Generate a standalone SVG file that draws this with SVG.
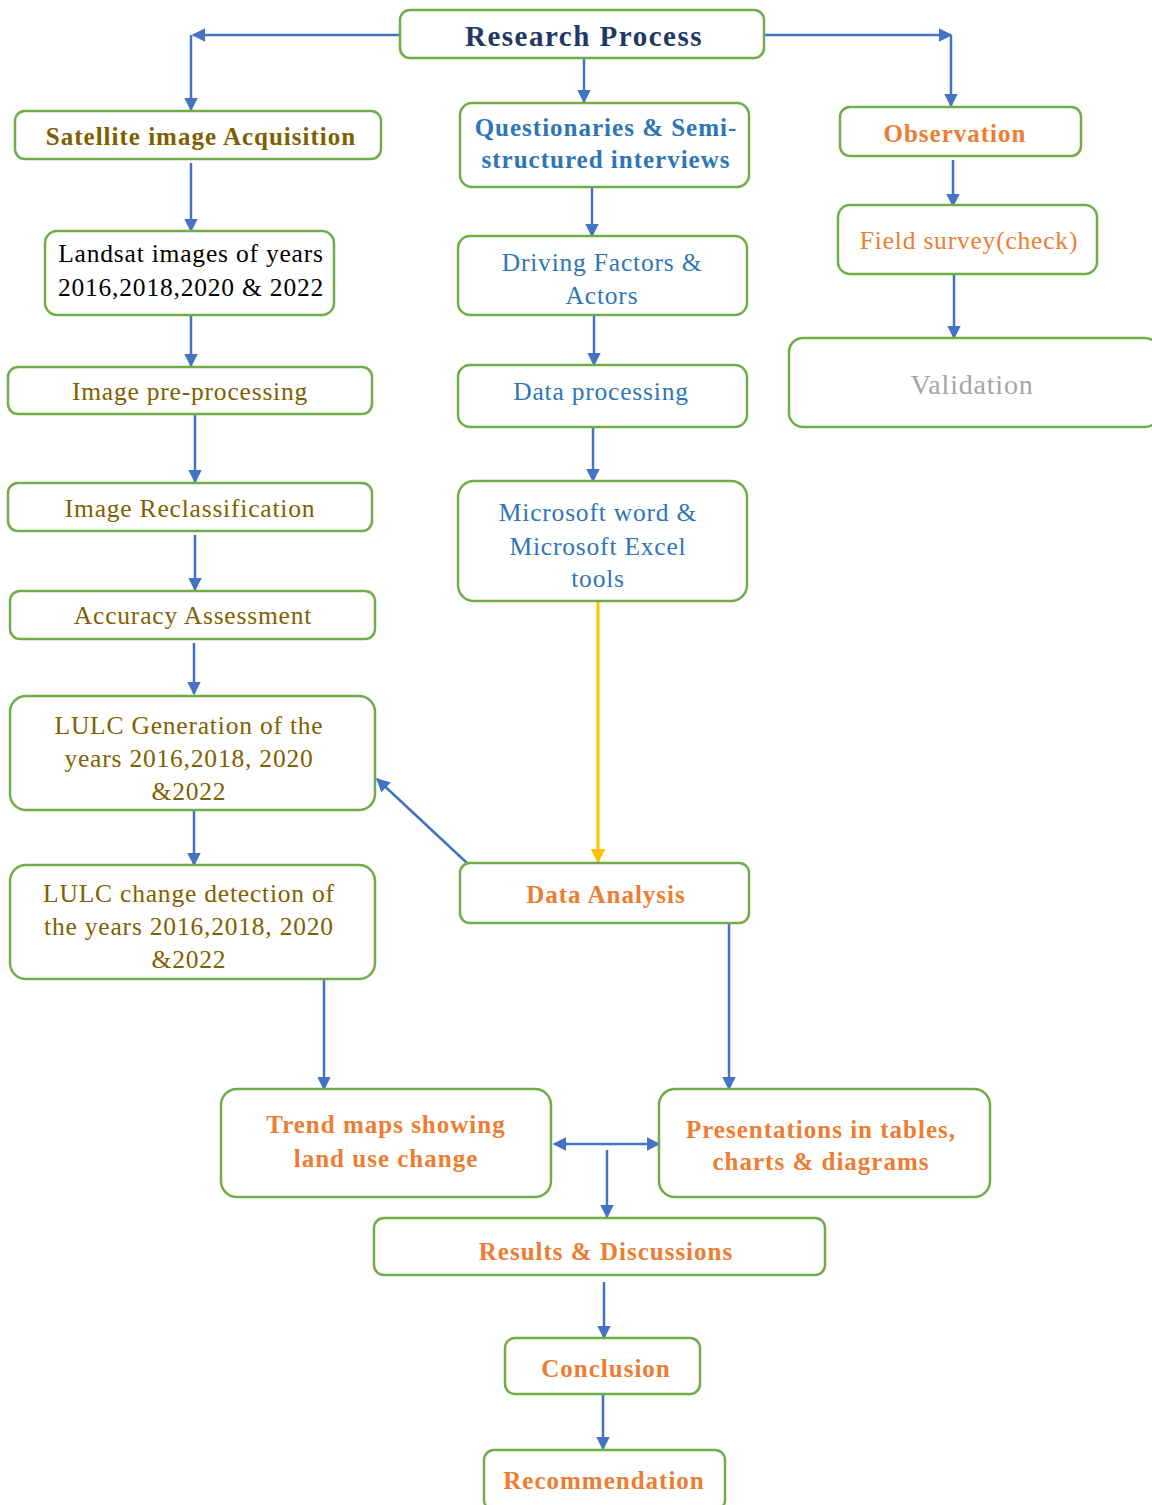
<svg xmlns="http://www.w3.org/2000/svg" width="1152" height="1505" viewBox="0 0 1152 1505">
<style>
.box{fill:#fff;stroke:#70AD47;stroke-width:2.5}
.t{font-family:"Liberation Serif","Tinos","Times New Roman",serif;text-anchor:middle;dominant-baseline:central;font-size:25.5px;letter-spacing:0.8px}
.b{font-weight:bold;font-size:25px;letter-spacing:1px}
.navy{fill:#1F3864}
.gold{fill:#7F6000}
.blk{fill:#000}
.blue{fill:#2E75B6}
.org{fill:#ED7D31}
.gry{fill:#A5A5A5}
.c{fill:none;stroke:#4472C4;stroke-width:2.5}
.y{fill:none;stroke:#FFC000;stroke-width:3}
</style>
<defs>
<marker id="ah" viewBox="0 0 10 10" refX="9" refY="5" markerWidth="5.5" markerHeight="5.5" orient="auto" markerUnits="strokeWidth">
<path d="M0,0 L10,5 L0,10 z" fill="#4472C4"/>
</marker>
<marker id="ahy" viewBox="0 0 10 10" refX="9" refY="5" markerWidth="5" markerHeight="5" orient="auto" markerUnits="strokeWidth">
<path d="M0,0 L10,5 L0,10 z" fill="#FFC000"/>
</marker>
</defs>
<rect width="1152" height="1505" fill="#fff"/>

<g id="connectors">
<path class="c" d="M400,35 H193" marker-end="url(#ah)"/>
<path class="c" d="M191,35 V110" marker-end="url(#ah)"/>
<path class="c" d="M764,35 H951" marker-end="url(#ah)"/>
<path class="c" d="M951,35 V106" marker-end="url(#ah)"/>
<path class="c" d="M584,58 V102" marker-end="url(#ah)"/>
<path class="c" d="M191,163 V231" marker-end="url(#ah)"/>
<path class="c" d="M191,316 V366" marker-end="url(#ah)"/>
<path class="c" d="M195,415 V482" marker-end="url(#ah)"/>
<path class="c" d="M195,535 V590" marker-end="url(#ah)"/>
<path class="c" d="M194,643 V694" marker-end="url(#ah)"/>
<path class="c" d="M194,811 V865" marker-end="url(#ah)"/>
<path class="c" d="M324,980 V1089" marker-end="url(#ah)"/>
<path class="c" d="M592,188 V236" marker-end="url(#ah)"/>
<path class="c" d="M594,316 V365" marker-end="url(#ah)"/>
<path class="c" d="M593,428 V481" marker-end="url(#ah)"/>
<path class="y" d="M598,602 V862" marker-end="url(#ahy)"/>
<path class="c" d="M467,863 L377,779" marker-end="url(#ah)"/>
<path class="c" d="M729,924 V1089" marker-end="url(#ah)"/>
<path class="c" d="M606,1144 H554" marker-end="url(#ah)"/>
<path class="c" d="M606,1144 H659" marker-end="url(#ah)"/>
<path class="c" d="M607,1150 V1217" marker-end="url(#ah)"/>
<path class="c" d="M604,1282 V1338" marker-end="url(#ah)"/>
<path class="c" d="M603,1390 V1449" marker-end="url(#ah)"/>
<path class="c" d="M953,160 V206" marker-end="url(#ah)"/>
<path class="c" d="M954,275 V338" marker-end="url(#ah)"/>
</g>

<g id="research-process">
<rect class="box" x="400" y="10" width="364" height="48" rx="10"/>
<text class="t b navy" x="584" y="36" style="font-size:29px;letter-spacing:1.5px">Research Process</text>
</g>

<g id="satellite">
<rect class="box" x="15" y="111" width="366" height="48" rx="10"/>
<text class="t b gold" x="201" y="136">Satellite image Acquisition</text>
</g>
<g id="landsat">
<rect class="box" x="45" y="231" width="289" height="84" rx="12"/>
<text class="t blk" x="191" y="253">Landsat images of years</text>
<text class="t blk" x="191" y="287">2016,2018,2020 &amp; 2022</text>
</g>
<g id="preprocessing">
<rect class="box" x="8" y="367" width="364" height="47" rx="10"/>
<text class="t gold" x="190" y="391">Image pre-processing</text>
</g>
<g id="reclassification">
<rect class="box" x="8" y="483" width="364" height="48" rx="10"/>
<text class="t gold" x="190" y="508">Image Reclassification</text>
</g>
<g id="accuracy">
<rect class="box" x="10" y="591" width="365" height="48" rx="10"/>
<text class="t gold" x="193" y="615">Accuracy Assessment</text>
</g>
<g id="lulc-generation">
<rect class="box" x="10" y="696" width="365" height="114" rx="16"/>
<text class="t gold" x="189" y="725">LULC Generation of the</text>
<text class="t gold" x="189" y="758">years 2016,2018, 2020</text>
<text class="t gold" x="189" y="791">&amp;2022</text>
</g>
<g id="lulc-change">
<rect class="box" x="10" y="865" width="365" height="114" rx="16"/>
<text class="t gold" x="189" y="893">LULC change detection of</text>
<text class="t gold" x="189" y="926">the years 2016,2018, 2020</text>
<text class="t gold" x="189" y="959">&amp;2022</text>
</g>

<g id="questionaries">
<rect class="box" x="460" y="103" width="289" height="84" rx="12"/>
<text class="t b blue" x="606" y="127">Questionaries &amp; Semi-</text>
<text class="t b blue" x="606" y="159">structured interviews</text>
</g>
<g id="driving-factors">
<rect class="box" x="458" y="236" width="289" height="79" rx="12"/>
<text class="t blue" x="602" y="262">Driving Factors &amp;</text>
<text class="t blue" x="602" y="295">Actors</text>
</g>
<g id="data-processing">
<rect class="box" x="458" y="365" width="289" height="62" rx="12"/>
<text class="t blue" x="601" y="391">Data processing</text>
</g>
<g id="microsoft">
<rect class="box" x="458" y="481" width="289" height="120" rx="16"/>
<text class="t blue" x="598" y="512">Microsoft word &amp;</text>
<text class="t blue" x="598" y="546">Microsoft Excel</text>
<text class="t blue" x="598" y="578">tools</text>
</g>
<g id="data-analysis">
<rect class="box" x="460" y="863" width="289" height="60" rx="10"/>
<text class="t b org" x="606" y="894">Data Analysis</text>
</g>

<g id="observation">
<rect class="box" x="840" y="107" width="241" height="49" rx="10"/>
<text class="t b org" x="955" y="133">Observation</text>
</g>
<g id="field-survey">
<rect class="box" x="838" y="205" width="259" height="69" rx="12"/>
<text class="t org" x="969" y="240">Field survey(check)</text>
</g>
<g id="validation">
<rect class="box" x="789" y="338" width="370" height="89" rx="14"/>
<text class="t gry" x="972" y="384" style="font-size:28px">Validation</text>
</g>

<g id="trend-maps">
<rect class="box" x="221" y="1089" width="330" height="108" rx="16"/>
<text class="t b org" x="386" y="1124">Trend maps showing</text>
<text class="t b org" x="386" y="1158">land use change</text>
</g>
<g id="presentations">
<rect class="box" x="659" y="1089" width="331" height="108" rx="16"/>
<text class="t b org" x="821" y="1129">Presentations in tables,</text>
<text class="t b org" x="821" y="1161">charts &amp; diagrams</text>
</g>
<g id="results">
<rect class="box" x="374" y="1218" width="451" height="57" rx="10"/>
<text class="t b org" x="606" y="1251">Results &amp; Discussions</text>
</g>
<g id="conclusion">
<rect class="box" x="505" y="1338" width="195" height="56" rx="10"/>
<text class="t b org" x="606" y="1368">Conclusion</text>
</g>
<g id="recommendation">
<rect class="box" x="484" y="1450" width="241" height="60" rx="10"/>
<text class="t b org" x="604" y="1480">Recommendation</text>
</g>
</svg>
